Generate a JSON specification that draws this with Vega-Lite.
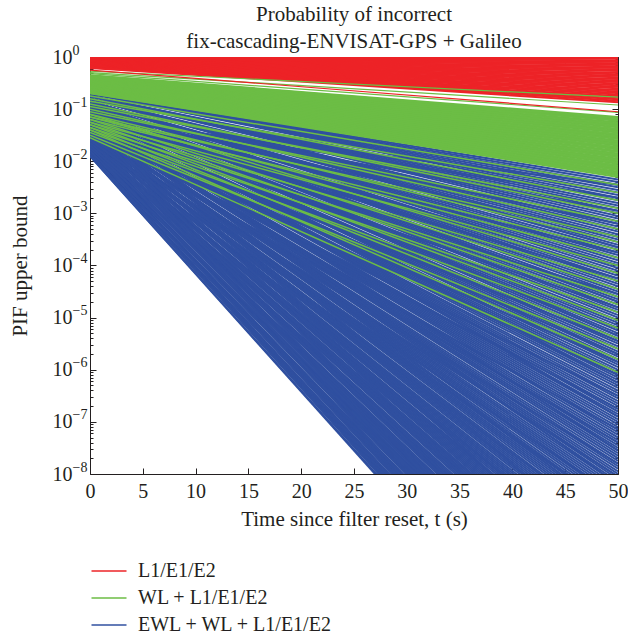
{
"$schema":"https://vega.github.io/schema/vega-lite/v6.json",
"width":528,"height":417,
"autosize":"none",
"padding":{"left":90,"top":57,"right":10,"bottom":164},
"background":"white",
"title":{"text":["Probability of incorrect","fix-cascading-ENVISAT-GPS + Galileo"],"fontSize":21,"fontWeight":"normal","font":"Liberation Serif","color":"#231f20","anchor":"middle","lineHeight":27,"offset":-9},
"config":{"view":{"stroke":null},"font":"Liberation Serif","axis":{"grid":false,"domainColor":"#231f20","tickColor":"#231f20","labelColor":"#231f20","titleColor":"#231f20","zindex":1,"labelOverlap":false,"labelFlush":false}},
"datasets":{
"blue":[{"a":0.2,"b":4.47e-3},{"a":0.2,"b":3.98e-3},{"a":0.2,"b":3.55e-3},{"a":0.2,"b":3.16e-3},{"a":0.2,"b":2.82e-3},{"a":0.2,"b":2.51e-3},{"a":0.2,"b":2.24e-3},{"a":0.2,"b":2e-3},{"a":0.2,"b":1.78e-3},
{"a":0.178,"b":1.58e-3},{"a":0.178,"b":1.41e-3},{"a":0.178,"b":1.26e-3},{"a":0.178,"b":1.12e-3},{"a":0.178,"b":1e-3},{"a":0.178,"b":8.91e-4},{"a":0.178,"b":7.94e-4},{"a":0.178,"b":7.08e-4},{"a":0.178,"b":6.31e-4},
{"a":0.158,"b":5.62e-4},{"a":0.158,"b":5.01e-4},{"a":0.158,"b":4.47e-4},{"a":0.158,"b":3.98e-4},{"a":0.158,"b":3.55e-4},{"a":0.158,"b":3.16e-4},{"a":0.158,"b":2.82e-4},{"a":0.158,"b":2.51e-4},{"a":0.158,"b":2.24e-4},
{"a":0.141,"b":2e-4},{"a":0.141,"b":1.78e-4},{"a":0.141,"b":1.58e-4},{"a":0.141,"b":1.41e-4},{"a":0.141,"b":1.26e-4},{"a":0.141,"b":1.12e-4},{"a":0.141,"b":1e-4},{"a":0.141,"b":8.91e-5},{"a":0.141,"b":7.94e-5},
{"a":0.126,"b":7.08e-5},{"a":0.126,"b":6.31e-5},{"a":0.126,"b":5.62e-5},{"a":0.126,"b":5.01e-5},{"a":0.126,"b":4.47e-5},{"a":0.126,"b":3.98e-5},{"a":0.126,"b":3.55e-5},{"a":0.126,"b":3.16e-5},{"a":0.126,"b":2.82e-5},
{"a":0.112,"b":2.51e-5},{"a":0.112,"b":2.24e-5},{"a":0.112,"b":2e-5},{"a":0.112,"b":1.78e-5},{"a":0.112,"b":1.58e-5},{"a":0.112,"b":1.41e-5},{"a":0.112,"b":1.26e-5},{"a":0.112,"b":1.12e-5},{"a":0.112,"b":1e-5},
{"a":0.1,"b":8.91e-6},{"a":0.1,"b":7.94e-6},{"a":0.1,"b":7.08e-6},{"a":0.1,"b":6.31e-6},{"a":0.1,"b":5.62e-6},{"a":0.1,"b":5.01e-6},{"a":0.1,"b":4.47e-6},{"a":0.1,"b":3.98e-6},{"a":0.1,"b":3.55e-6},
{"a":0.0891,"b":3.16e-6},{"a":0.0891,"b":2.82e-6},{"a":0.0891,"b":2.51e-6},{"a":0.0891,"b":2.24e-6},{"a":0.0891,"b":2e-6},{"a":0.0891,"b":1.78e-6},{"a":0.0891,"b":1.58e-6},{"a":0.0891,"b":1.41e-6},{"a":0.0891,"b":1.26e-6},
{"a":0.0794,"b":1.12e-6},{"a":0.0794,"b":1e-6},{"a":0.0794,"b":8.91e-7},{"a":0.0794,"b":7.94e-7},{"a":0.0794,"b":7.08e-7},{"a":0.0794,"b":6.31e-7},{"a":0.0794,"b":5.62e-7},{"a":0.0794,"b":5.01e-7},{"a":0.0794,"b":4.47e-7},
{"a":0.0708,"b":3.98e-7},{"a":0.0708,"b":3.55e-7},{"a":0.0708,"b":3.16e-7},{"a":0.0708,"b":2.82e-7},{"a":0.0708,"b":2.51e-7},{"a":0.0708,"b":2.24e-7},{"a":0.0708,"b":2e-7},{"a":0.0708,"b":1.78e-7},{"a":0.0708,"b":1.58e-7},
{"a":0.0631,"b":1.41e-7},{"a":0.0631,"b":1.26e-7},{"a":0.0631,"b":1.12e-7},{"a":0.0631,"b":1e-7},{"a":0.0631,"b":8.91e-8},{"a":0.0631,"b":7.94e-8},{"a":0.0631,"b":7.08e-8},{"a":0.0631,"b":6.31e-8},{"a":0.0631,"b":5.62e-8},
{"a":0.0562,"b":5.01e-8},{"a":0.0562,"b":4.47e-8},{"a":0.0562,"b":3.98e-8},{"a":0.0562,"b":3.55e-8},{"a":0.0562,"b":3.16e-8},{"a":0.0562,"b":2.82e-8},{"a":0.0562,"b":2.51e-8},{"a":0.0562,"b":2.24e-8},{"a":0.0562,"b":2e-8},
{"a":0.0501,"b":1.78e-8},{"a":0.0501,"b":1.58e-8},{"a":0.0501,"b":1.41e-8},{"a":0.0501,"b":1.26e-8},{"a":0.0501,"b":1.12e-8},{"a":0.0501,"b":1e-8},{"a":0.0501,"b":8.91e-9},{"a":0.0501,"b":7.94e-9},{"a":0.0501,"b":7.08e-9},
{"a":0.0447,"b":6.31e-9},{"a":0.0447,"b":5.62e-9},{"a":0.0447,"b":5.01e-9},{"a":0.0447,"b":4.47e-9},{"a":0.0447,"b":3.98e-9},{"a":0.0447,"b":3.55e-9},{"a":0.0447,"b":3.16e-9},{"a":0.0447,"b":2.82e-9},{"a":0.0447,"b":2.51e-9},
{"a":0.0398,"b":2.24e-9},{"a":0.0398,"b":2e-9},{"a":0.0398,"b":1.78e-9},{"a":0.0398,"b":1.58e-9},{"a":0.0398,"b":1.41e-9},{"a":0.0398,"b":1.26e-9},{"a":0.0398,"b":1.12e-9},{"a":0.0398,"b":1e-9},{"a":0.0398,"b":8.91e-10},
{"a":0.0355,"b":7.94e-10},{"a":0.0355,"b":7.08e-10},{"a":0.0355,"b":6.31e-10},{"a":0.0355,"b":5.62e-10},{"a":0.0355,"b":5.01e-10},{"a":0.0355,"b":4.47e-10},{"a":0.0355,"b":3.98e-10},{"a":0.0355,"b":3.55e-10},{"a":0.0355,"b":3.16e-10},
{"a":0.0316,"b":2.82e-10},{"a":0.0316,"b":2.51e-10},{"a":0.0316,"b":2.24e-10},{"a":0.0316,"b":2e-10},{"a":0.0316,"b":1.78e-10},{"a":0.0316,"b":1.58e-10},{"a":0.0316,"b":1.41e-10},{"a":0.0316,"b":1.26e-10},{"a":0.0316,"b":1.12e-10},
{"a":0.0282,"b":1e-10},{"a":0.0282,"b":8.91e-11},{"a":0.0282,"b":7.94e-11},{"a":0.0282,"b":7.08e-11},{"a":0.0282,"b":6.31e-11},{"a":0.0282,"b":5.62e-11},{"a":0.0282,"b":5.01e-11},{"a":0.0282,"b":4.47e-11},{"a":0.0282,"b":3.98e-11},
{"a":0.0251,"b":3.55e-11},{"a":0.0251,"b":3.16e-11},{"a":0.0251,"b":2.82e-11},{"a":0.0251,"b":2.51e-11},{"a":0.0251,"b":2.24e-11},{"a":0.0251,"b":2e-11},{"a":0.0251,"b":1.78e-11},{"a":0.0251,"b":1.58e-11},{"a":0.0251,"b":1.41e-11},
{"a":0.0224,"b":1.26e-11},{"a":0.0224,"b":1.12e-11},{"a":0.0224,"b":1e-11},{"a":0.0224,"b":8.91e-12},{"a":0.0224,"b":7.94e-12},{"a":0.0224,"b":7.08e-12},{"a":0.0224,"b":6.31e-12},{"a":0.0224,"b":5.62e-12},{"a":0.0224,"b":5.01e-12},
{"a":0.02,"b":4.47e-12},{"a":0.02,"b":3.98e-12},{"a":0.02,"b":3.55e-12},{"a":0.02,"b":3.16e-12},{"a":0.02,"b":2.82e-12},{"a":0.02,"b":2.51e-12},{"a":0.02,"b":2.24e-12},{"a":0.02,"b":2e-12},{"a":0.02,"b":1.78e-12},
{"a":0.0178,"b":1.58e-12},{"a":0.0178,"b":1.41e-12},{"a":0.0178,"b":1.26e-12},{"a":0.0178,"b":1.12e-12},{"a":0.0178,"b":1e-12},{"a":0.0178,"b":8.91e-13},{"a":0.0178,"b":7.94e-13},{"a":0.0178,"b":7.08e-13},{"a":0.0178,"b":6.31e-13},
{"a":0.0158,"b":5.62e-13},{"a":0.0158,"b":5.01e-13},{"a":0.0158,"b":4.47e-13},{"a":0.0158,"b":3.98e-13},{"a":0.0158,"b":3.55e-13},{"a":0.0158,"b":3.16e-13},{"a":0.0158,"b":2.82e-13},{"a":0.0158,"b":2.51e-13},{"a":0.0158,"b":2.24e-13},
{"a":0.0141,"b":2e-13},{"a":0.0141,"b":1.78e-13},{"a":0.0141,"b":1.58e-13},{"a":0.0141,"b":1.41e-13},{"a":0.0141,"b":1.26e-13},{"a":0.0141,"b":1.12e-13},{"a":0.0141,"b":1e-13},{"a":0.0141,"b":8.91e-14},{"a":0.0141,"b":7.94e-14},
{"a":0.0126,"b":7.08e-14},{"a":0.0126,"b":6.31e-14},
{"a":0.0631,"b":3.55e-3},{"a":0.0708,"b":2e-3},{"a":0.0794,"b":1.12e-3},{"a":0.0891,"b":6.31e-4},{"a":0.0891,"b":3.55e-4},{"a":0.0562,"b":1.78e-4},{"a":0.0631,"b":1e-4},{"a":0.0631,"b":5.62e-5},{"a":0.0398,"b":2.82e-5},{"a":0.0447,"b":1.58e-5},{"a":0.0355,"b":6.31e-6},{"a":0.0398,"b":3.55e-6},{"a":0.0447,"b":2e-6},{"a":0.0355,"b":1.41e-6},{"a":0.0355,"b":7.94e-7},{"a":0.0316,"b":3.16e-7},{"a":0.0355,"b":1.78e-7},{"a":0.0282,"b":7.08e-8},{"a":0.0316,"b":3.98e-8},{"a":0.0251,"b":1.58e-8},{"a":0.0282,"b":8.91e-9},{"a":0.0251,"b":3.55e-9},{"a":0.0251,"b":2e-9},{"a":0.0224,"b":7.94e-10},{"a":0.02,"b":1.78e-10},{"a":0.0224,"b":1e-10},{"a":0.02,"b":3.98e-11},{"a":0.02,"b":2.24e-11},{"a":0.0178,"b":8.91e-12},{"a":0.0158,"b":2e-12},
{"a":0.112,"b":2.82e-8},{"a":0.1,"b":6.31e-9},{"a":0.0891,"b":1.41e-9},{"a":0.0891,"b":3.16e-10},{"a":0.0794,"b":7.08e-11},{"a":0.0708,"b":1.58e-11},{"a":0.0631,"b":3.55e-12},{"a":0.0631,"b":7.94e-13},{"a":0.0562,"b":1.78e-13},{"a":0.126,"b":4.47e-6},{"a":0.126,"b":5.62e-7},{"a":0.112,"b":1.26e-7},{"a":0.141,"b":2e-5},{"a":0.178,"b":2.24e-4}],
"green":[{"a":0.447,"b":0.0708},{"a":0.431,"b":0.0631},{"a":0.417,"b":0.0562},{"a":0.403,"b":0.0501},{"a":0.389,"b":0.0447},{"a":0.376,"b":0.0398},{"a":0.363,"b":0.0355},{"a":0.351,"b":0.0316},{"a":0.339,"b":0.0282},{"a":0.327,"b":0.0251},{"a":0.316,"b":0.0224},{"a":0.305,"b":0.02},{"a":0.295,"b":0.0178},{"a":0.285,"b":0.0158},{"a":0.275,"b":0.0141},{"a":0.266,"b":0.0126},{"a":0.257,"b":0.0112},{"a":0.248,"b":0.01},{"a":0.24,"b":0.00891},{"a":0.232,"b":0.00794},{"a":0.224,"b":0.00708},{"a":0.216,"b":0.00631},{"a":0.209,"b":0.00562},{"a":0.202,"b":0.00501},
{"a":0.439,"b":0.0668},{"a":0.424,"b":0.0596},{"a":0.41,"b":0.053},{"a":0.396,"b":0.0473},{"a":0.382,"b":0.0422},{"a":0.369,"b":0.0376},{"a":0.357,"b":0.0335},{"a":0.345,"b":0.0299},{"a":0.333,"b":0.0266},{"a":0.321,"b":0.0237},{"a":0.31,"b":0.0211},{"a":0.3,"b":0.0188},{"a":0.29,"b":0.0168},{"a":0.28,"b":0.015},{"a":0.27,"b":0.0133},{"a":0.261,"b":0.0119},{"a":0.252,"b":0.0106},{"a":0.244,"b":0.00944},{"a":0.236,"b":0.0084},{"a":0.228,"b":0.0075},{"a":0.22,"b":0.00668},{"a":0.212,"b":0.00596},{"a":0.205,"b":0.0053}],
"greenLow":[{"a":0.178,"b":3.55e-3},{"a":0.141,"b":2.51e-3},{"a":0.158,"b":1.78e-3},{"a":0.112,"b":1.26e-3},{"a":0.126,"b":1e-3},{"a":0.0891,"b":7.08e-4},{"a":0.1,"b":5.01e-4},{"a":0.0708,"b":3.55e-4},{"a":0.0794,"b":2.82e-4},{"a":0.0631,"b":2e-4},{"a":0.0708,"b":1.41e-4},{"a":0.0562,"b":1e-4},{"a":0.0794,"b":7.08e-5},{"a":0.0501,"b":5.01e-5},{"a":0.0631,"b":3.55e-5},{"a":0.0447,"b":2.51e-5},{"a":0.0562,"b":1.78e-5},{"a":0.0398,"b":1.26e-5},{"a":0.0501,"b":8.91e-6},{"a":0.0355,"b":6.31e-6},{"a":0.0447,"b":3.98e-6},{"a":0.0316,"b":2.51e-6},{"a":0.0398,"b":1.58e-6},{"a":0.0282,"b":8.91e-7}],
"red":[{"a":1.0,"b":1.0},{"a":0.983,"b":0.933},{"a":0.967,"b":0.871},{"a":0.951,"b":0.813},{"a":0.936,"b":0.759},{"a":0.92,"b":0.708},{"a":0.905,"b":0.661},{"a":0.89,"b":0.617},{"a":0.875,"b":0.575},{"a":0.861,"b":0.537},{"a":0.847,"b":0.501},{"a":0.833,"b":0.468},{"a":0.819,"b":0.437},{"a":0.805,"b":0.407},{"a":0.792,"b":0.38},{"a":0.779,"b":0.355},{"a":0.766,"b":0.331},{"a":0.754,"b":0.309},{"a":0.741,"b":0.288},{"a":0.729,"b":0.269},{"a":0.717,"b":0.251},{"a":0.705,"b":0.234},{"a":0.693,"b":0.219},{"a":0.682,"b":0.204},{"a":0.671,"b":0.191},{"a":0.66,"b":0.178},{"a":0.649,"b":0.166},{"a":0.638,"b":0.155},{"a":0.628,"b":0.145},{"a":0.617,"b":0.135}],
"thin":[{"g":"WL + L1/E1/E2","a":0.537,"b":0.17},{"g":"WL + L1/E1/E2","a":0.5,"b":0.12},{"g":"WL + L1/E1/E2","a":0.479,"b":0.087},{"g":"L1/E1/E2","a":0.562,"b":0.0891}],
"dummy":[{"v":1}]
},
"resolve":{"axis":{"x":"independent","y":"independent"}},
"layer":[
{"data":{"name":"blue"},"mark":{"type":"rule","clip":true,"strokeWidth":2},
 "encoding":{"x":{"datum":0,"type":"quantitative","scale":{"domain":[0,50],"nice":false},"axis":null},"x2":{"datum":50},
 "y":{"field":"a","type":"quantitative","scale":{"type":"log","domain":[1e-8,1],"nice":false},"axis":null},"y2":{"field":"b"},
 "color":{"datum":"EWL + WL + L1/E1/E2","title":null,"scale":{"domain":["L1/E1/E2","WL + L1/E1/E2","EWL + WL + L1/E1/E2"],"range":["#ED2327","#6CBD45","#3050A0"]},
  "legend":{"orient":"none","legendX":8,"legendY":503,"title":null,"symbolType":"M-1.75,0H1.75","symbolSize":400,"symbolStrokeWidth":1.5,"labelFontSize":20,"labelOffset":18,"labelLimit":0,"rowPadding":6,"labelColor":"#231f20","padding":0,"labelFont":"Liberation Serif"}}}},
{"data":{"name":"green"},"mark":{"type":"rule","clip":true,"strokeWidth":2},
 "encoding":{"x":{"datum":0,"type":"quantitative","axis":null},"x2":{"datum":50},
 "y":{"field":"a","type":"quantitative","axis":null},"y2":{"field":"b"},
 "color":{"datum":"WL + L1/E1/E2","title":null}}},
{"data":{"name":"greenLow"},"mark":{"type":"rule","clip":true,"strokeWidth":1.5},
 "encoding":{"x":{"datum":0,"type":"quantitative","axis":null},"x2":{"datum":50},
 "y":{"field":"a","type":"quantitative","axis":null},"y2":{"field":"b"},
 "color":{"datum":"WL + L1/E1/E2","title":null}}},
{"data":{"name":"red"},"mark":{"type":"rule","clip":true,"strokeWidth":2},
 "encoding":{"x":{"datum":0,"type":"quantitative","axis":null},"x2":{"datum":50},
 "y":{"field":"a","type":"quantitative","axis":null},"y2":{"field":"b"},
 "color":{"datum":"L1/E1/E2","title":null}}},
{"data":{"name":"thin"},"mark":{"type":"rule","clip":true,"strokeWidth":1.2},
 "encoding":{"x":{"datum":0,"type":"quantitative","axis":null},"x2":{"datum":50},
 "y":{"field":"a","type":"quantitative","axis":null},"y2":{"field":"b"},
 "color":{"field":"g","type":"nominal","title":null}}},
{"data":{"name":"dummy"},"mark":{"type":"point","opacity":0},
 "encoding":{"x":{"field":"v","type":"quantitative","axis":{"orient":"bottom","values":[0,5,10,15,20,25,30,35,40,45,50],"ticks":false,"tickSize":0,"labelFontSize":20,"labelPadding":7,"title":"Time since filter reset, t (s)","titleFontSize":21,"titleFontWeight":"normal","titlePadding":7}},
 "y":{"field":"v","type":"quantitative","axis":{"orient":"left","values":[1e-8,1e-7,1e-6,1e-5,1e-4,1e-3,0.01,0.1,1],"labelExpr":"'10'","ticks":false,"tickSize":0,"labelFontSize":20,"labelPadding":18,"title":"PIF upper bound","titleFontSize":21,"titleFontWeight":"normal","titlePadding":22}}}},
{"data":{"name":"dummy"},"mark":{"type":"point","opacity":0},
 "encoding":{"x":{"field":"v","type":"quantitative","axis":{"orient":"top","values":[0,5,10,15,20,25,30,35,40,45,50],"labels":false,"tickSize":-6,"title":null}},
 "y":{"field":"v","type":"quantitative","axis":{"orient":"left","values":[1e-8,1e-7,1e-6,1e-5,1e-4,1e-3,0.01,0.1,1],"labelExpr":"datum.value > 0.5 ? '0' : '−' + round(-log(datum.value)/LN10)","labelAlign":"left","ticks":false,"tickSize":0,"domain":false,"labelFontSize":14,"labelPadding":18,"labelOffset":-7,"title":null}}}},
{"data":{"name":"dummy"},"mark":{"type":"point","opacity":0},
 "encoding":{"x":{"field":"v","type":"quantitative","axis":{"orient":"bottom","values":[0,5,10,15,20,25,30,35,40,45,50],"labels":false,"domain":false,"tickSize":-6,"title":null}},
 "y":{"field":"v","type":"quantitative","axis":{"orient":"left","values":[1e-8,1e-7,1e-6,1e-5,1e-4,1e-3,0.01,0.1,1],"labels":false,"domain":false,"tickSize":-6,"title":null}}}},
{"data":{"name":"dummy"},"mark":{"type":"point","opacity":0},
 "encoding":{"y":{"field":"v","type":"quantitative","axis":{"orient":"right","values":[1e-8,1e-7,1e-6,1e-5,1e-4,1e-3,0.01,0.1,1],"labels":false,"tickSize":-6,"title":null}}}},
{"data":{"name":"dummy"},"mark":{"type":"point","opacity":0},
 "encoding":{"y":{"field":"v","type":"quantitative","axis":{"orient":"left","values":[2e-8,3e-8,4e-8,5e-8,6e-8,7e-8,8e-8,9e-8,2e-7,3e-7,4e-7,5e-7,6e-7,7e-7,8e-7,9e-7,2e-6,3e-6,4e-6,5e-6,6e-6,7e-6,8e-6,9e-6,2e-5,3e-5,4e-5,5e-5,6e-5,7e-5,8e-5,9e-5,2e-4,3e-4,4e-4,5e-4,6e-4,7e-4,8e-4,9e-4,0.002,0.003,0.004,0.005,0.006,0.007,0.008,0.009,0.02,0.03,0.04,0.05,0.06,0.07,0.08,0.09,0.2,0.3,0.4,0.5,0.6,0.7,0.8,0.9],"labels":false,"domain":false,"tickSize":-3,"title":null}}}},
{"data":{"name":"dummy"},"mark":{"type":"point","opacity":0},
 "encoding":{"y":{"field":"v","type":"quantitative","axis":{"orient":"right","values":[2e-8,3e-8,4e-8,5e-8,6e-8,7e-8,8e-8,9e-8,2e-7,3e-7,4e-7,5e-7,6e-7,7e-7,8e-7,9e-7,2e-6,3e-6,4e-6,5e-6,6e-6,7e-6,8e-6,9e-6,2e-5,3e-5,4e-5,5e-5,6e-5,7e-5,8e-5,9e-5,2e-4,3e-4,4e-4,5e-4,6e-4,7e-4,8e-4,9e-4,0.002,0.003,0.004,0.005,0.006,0.007,0.008,0.009,0.02,0.03,0.04,0.05,0.06,0.07,0.08,0.09,0.2,0.3,0.4,0.5,0.6,0.7,0.8,0.9],"labels":false,"domain":false,"tickSize":-3,"title":null}}}}
]
}
